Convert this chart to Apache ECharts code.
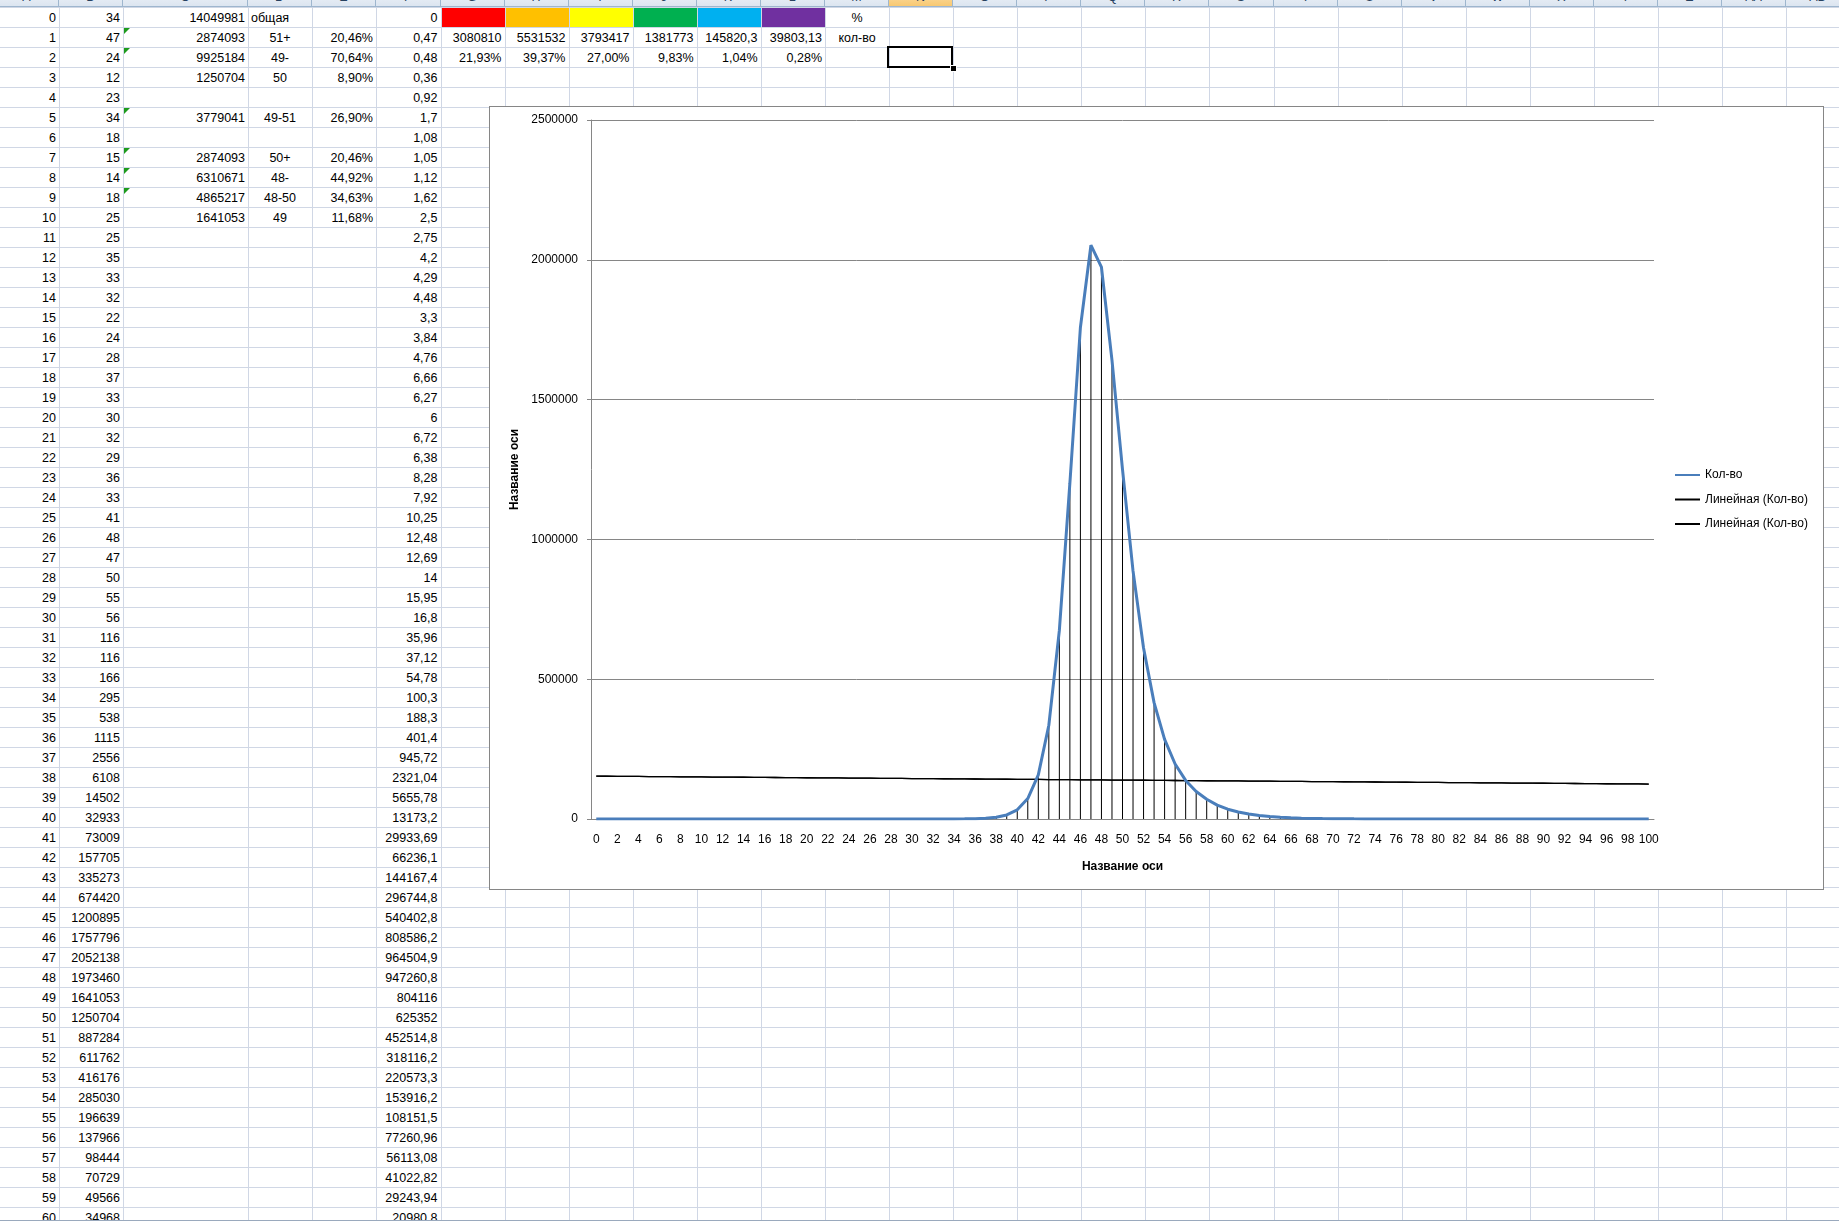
<!DOCTYPE html>
<html lang="ru">
  <head>
    <meta charset="UTF-8" />
    <title>Кол-во</title>
    <style>
      body {
        margin: 0;
        width: 1839px;
        height: 1223px;
        overflow: hidden;
        background: #fff;
        position: relative;
        font-family: "Liberation Sans", Arial, sans-serif;
      }
      #sheet {
        position: absolute;
        left: 0;
        top: 0;
        width: 1839px;
        height: 1223px;
        overflow: hidden;
      }
      .vl {
        position: absolute;
        top: 0;
        width: 1px;
        height: 1223px;
        background: #d0d7e5;
      }
      .hl {
        position: absolute;
        left: 0;
        width: 1839px;
        height: 1px;
        background: #d0d7e5;
      }
      .cell {
        position: absolute;
        height: 20px;
        line-height: 22px;
        font-size: 12.5px;
        color: #000;
        white-space: nowrap;
        padding: 0 3px;
        box-sizing: border-box;
      }
      .hdr {
        position: absolute;
        top: -13px;
        height: 20px;
        line-height: 20px;
        font-size: 12.5px;
        color: #27415f;
        text-align: center;
        background: linear-gradient(#f4f7fb, #dce5f0);
        border-right: 1px solid #9eb6ce;
        border-bottom: 1px solid #9eb6ce;
        box-sizing: border-box;
      }
      .tri {
        position: absolute;
        width: 0;
        height: 0;
        border-top: 6px solid #1c9a1c;
        border-right: 6px solid transparent;
      }
      #sel {
        position: absolute;
        left: 887px;
        top: 46px;
        width: 66px;
        height: 22px;
        border: 2px solid #000;
        box-sizing: border-box;
      }
      #handle {
        position: absolute;
        left: 950px;
        top: 65px;
        width: 5px;
        height: 5px;
        background: #000;
        border: 1px solid #fff;
      }
      #tabs {
        position: absolute;
        left: 0;
        top: 1220px;
        width: 1839px;
        height: 3px;
        background: #fff;
        border-top: 1px solid #9aa9bd;
      }
      #box {
        position: absolute;
        left: 489px;
        top: 106px;
        width: 1335px;
        height: 784px;
        border: 1px solid #868686;
        background: #fff;
        box-sizing: border-box;
      }
      #main {
        width: 1333px;
        height: 782px;
      }
    </style>
  </head>
  <body>
    <div id="sheet"></div>
    <div id="box"><div id="main"></div></div>
    <script src="https://cdn.jsdelivr.net/npm/echarts@6.0.0/dist/echarts.min.js"></script>
    <script>
      // возраст (ось X)
      const ages = [
        0, 1, 2, 3, 4, 5, 6, 7, 8, 9, 10, 11, 12, 13, 14, 15, 16, 17, 18, 19, 20,
        21, 22, 23, 24, 25, 26, 27, 28, 29, 30, 31, 32, 33, 34, 35, 36, 37, 38, 39, 40,
        41, 42, 43, 44, 45, 46, 47, 48, 49, 50, 51, 52, 53, 54, 55, 56, 57, 58, 59, 60,
        61, 62, 63, 64, 65, 66, 67, 68, 69, 70, 71, 72, 73, 74, 75, 76, 77, 78, 79, 80,
        81, 82, 83, 84, 85, 86, 87, 88, 89, 90, 91, 92, 93, 94, 95, 96, 97, 98, 99, 100
      ];
      // Кол-во (столбец B), после 60 - оценка по графику
      const counts = [
        34, 47, 24, 12, 23, 34, 18, 15, 14, 18, 25, 25, 35, 33, 32, 22, 24, 28, 37, 33,
        30, 32, 29, 36, 33, 41, 48, 47, 50, 55, 56, 116, 116, 166, 295, 538, 1115, 2556,
        6108, 14502, 32933, 73009, 157705, 335273, 674420, 1200895, 1757796, 2052138,
        1973460, 1641053, 1250704, 887284, 611762, 416176, 285030, 196639, 137966, 98444,
        70729, 49566, 34968,
        25000, 17800, 12600, 8900, 6250, 4400, 3050, 2100, 1500, 1050, 750, 530, 380, 270,
        200, 150, 110, 85, 65, 50, 40, 35, 30, 25, 22, 20, 18, 15, 13, 12, 10, 9, 8, 7, 6,
        5, 5, 4, 3, 3
      ];
      // столбец F
      const colF = [
        "0", "0,47", "0,48", "0,36", "0,92", "1,7", "1,08", "1,05", "1,12", "1,62", "2,5",
        "2,75", "4,2", "4,29", "4,48", "3,3", "3,84", "4,76", "6,66", "6,27", "6", "6,72",
        "6,38", "8,28", "7,92", "10,25", "12,48", "12,69", "14", "15,95", "16,8", "35,96",
        "37,12", "54,78", "100,3", "188,3", "401,4", "945,72", "2321,04", "5655,78",
        "13173,2", "29933,69", "66236,1", "144167,4", "296744,8", "540402,8", "808586,2",
        "964504,9", "947260,8", "804116", "625352", "452514,8", "318116,2", "220573,3",
        "153916,2", "108151,5", "77260,96", "56113,08", "41022,82", "29243,94", "20980,8"
      ];
      // столбцы C, D, E
      const groupRows = [0, 1, 2, 3, 5, 7, 8, 9, 10];
      const groupSums = ["14049981", "2874093", "9925184", "1250704", "3779041", "2874093", "6310671", "4865217", "1641053"];
      const groupNames = ["общая", "51+", "49-", "50", "49-51", "50+", "48-", "48-50", "49"];
      const groupPct = ["", "20,46%", "70,64%", "8,90%", "26,90%", "20,46%", "44,92%", "34,63%", "11,68%"];
      const flagRows = [1, 2, 5, 7, 8, 9];
      // строки 1-2, столбцы G..L
      const bandColors = ["#ff0000", "#ffc000", "#ffff00", "#00b050", "#00b0f0", "#7030a0"];
      const bandCounts = ["3080810", "5531532", "3793417", "1381773", "145820,3", "39803,13"];
      const bandPct = ["21,93%", "39,37%", "27,00%", "9,83%", "1,04%", "0,28%"];

      const colLetters = ["A", "B", "C", "D", "E", "F", "G", "H", "I", "J", "K", "L", "M", "N",
        "O", "P", "Q", "R", "S", "T", "U", "V", "W", "X", "Y", "Z", "AA", "AB"];
      const colEdges = [-5, 59, 123, 248, 312, 376, 440.5, 504.5, 568.5, 632.5, 696.5, 760.5,
        825, 889, 953, 1017, 1081, 1145, 1209, 1274, 1338, 1402, 1466, 1530, 1594, 1658,
        1722, 1786, 1850];

      // ---- лист Excel ----
      const sheet = document.getElementById("sheet");
      const rowTop = (r) => 7 + 20 * r;
      function add(cls, css, text) {
        const d = document.createElement("div");
        d.className = cls;
        Object.assign(d.style, css);
        if (text !== undefined) d.textContent = text;
        sheet.appendChild(d);
        return d;
      }
      function cell(col, row, text, align) {
        add("cell", {
          left: colEdges[col] + "px",
          top: rowTop(row) + "px",
          width: colEdges[col + 1] - colEdges[col] + "px",
          textAlign: align || "right",
        }, text);
      }
      // заливка
      bandColors.forEach((c, i) => {
        add("cell", {
          left: colEdges[6 + i] + 1 + "px",
          top: rowTop(0) + 1 + "px",
          width: colEdges[7 + i] - colEdges[6 + i] - 1 + "px",
          height: "19px",
          background: c,
        });
      });
      colEdges.forEach((x) => add("vl", { left: Math.round(x) + "px" }));
      for (let r = 0; r <= 61; r++) add("hl", { top: rowTop(r) + "px" });
      colLetters.forEach((l, i) => {
        const h = add("hdr", {
          left: colEdges[i] + "px",
          width: colEdges[i + 1] - colEdges[i] + "px",
        }, l);
        if (l === "N") h.style.background = "linear-gradient(#fde6b8, #f8c872)";
      });
      for (let r = 0; r <= 60; r++) {
        cell(0, r, String(ages[r]));
        cell(1, r, String(counts[r]));
        cell(5, r, colF[r]);
      }
      groupRows.forEach((r, i) => {
        cell(2, r, groupSums[i]);
        cell(3, r, groupNames[i], i === 0 ? "left" : "center");
        if (groupPct[i]) cell(4, r, groupPct[i]);
      });
      flagRows.forEach((r) => add("tri", { left: "124px", top: rowTop(r) + 1 + "px" }));
      bandCounts.forEach((t, i) => cell(6 + i, 1, t));
      bandPct.forEach((t, i) => cell(6 + i, 2, t));
      cell(12, 0, "%", "center");
      cell(12, 1, "кол-во", "center");
      add("", { position: "absolute" }).id = "sel";
      add("", { position: "absolute" }).id = "handle";
      add("", { position: "absolute" }).id = "tabs";

      // ---- линейный тренд ----
      function linearTrend(ys) {
        const n = ys.length;
        let sx = 0, sy = 0, sxx = 0, sxy = 0;
        ys.forEach((y, i) => {
          const x = i + 1;
          sx += x; sy += y; sxx += x * x; sxy += x * y;
        });
        const b = (n * sxy - sx * sy) / (n * sxx - sx * sx);
        const a = (sy - b * sx) / n;
        return ys.map((_, i) => a + b * (i + 1));
      }
      const trend = linearTrend(counts);

      const legendNames = {
        "Кол-во": "Кол-во",
        trend1: "Линейная (Кол-во)",
        trend2: "Линейная (Кол-во)",
      };
      const font = "Liberation Sans";

      const myChart = echarts.init(document.getElementById("main"));
      const option = {
        animation: false,
        textStyle: { fontFamily: font },
        grid: { left: 101, right: 169, top: 13, bottom: 70, outerBoundsMode: "none" },
        legend: {
          orient: "vertical",
          left: 1179,
          top: 357,
          itemWidth: 25,
          itemHeight: 14,
          itemGap: 12.5,
          // у линии в легенде нет маркера
          itemStyle: { color: "rgba(0,0,0,0)", borderWidth: 0, opacity: 0 },
          data: ["Кол-во", "trend1", "trend2"],
          formatter: (name) => legendNames[name],
          textStyle: { fontFamily: font, fontSize: 12, color: "#000" },
        },
        xAxis: {
          type: "category",
          data: ages,
          boundaryGap: true,
          axisLine: { lineStyle: { color: "#868686" } },
          axisTick: { show: false },
          axisLabel: { interval: 1, color: "#000", fontSize: 12, margin: 15 },
          name: "Название оси",
          nameLocation: "middle",
          nameGap: 42,
          nameTextStyle: { fontWeight: "bold", fontSize: 12, color: "#000" },
        },
        yAxis: {
          type: "value",
          min: 0,
          max: 2500000,
          interval: 500000,
          axisLine: { show: true, lineStyle: { color: "#868686" } },
          axisTick: { show: true, length: 4, lineStyle: { color: "#868686" } },
          splitLine: { lineStyle: { color: "#868686" } },
          axisLabel: { color: "#000", fontSize: 12, margin: 13, formatter: (v) => String(v) },
          name: "Название оси",
          nameLocation: "middle",
          nameGap: 59,
          nameTextStyle: { fontWeight: "bold", fontSize: 12, color: "#000" },
        },
        series: [
          {
            name: "drop",
            type: "bar",
            data: counts,
            barWidth: 1,
            silent: true,
            itemStyle: { color: "#000" },
            z: 1,
          },
          {
            name: "trend1",
            type: "line",
            data: trend,
            symbol: "none",
            lineStyle: { color: "#000", width: 1.3 },
            itemStyle: { color: "#000" },
            z: 2,
          },
          {
            name: "trend2",
            type: "line",
            data: trend,
            symbol: "none",
            lineStyle: { color: "#000", width: 1.3 },
            itemStyle: { color: "#000" },
            z: 2,
          },
          {
            name: "Кол-во",
            type: "line",
            data: counts,
            symbol: "none",
            lineStyle: { color: "#4a7ebb", width: 3 },
            itemStyle: { color: "#4a7ebb" },
            z: 3,
          },
        ],
      };
      myChart.setOption(option);
    </script>
  </body>
</html>
